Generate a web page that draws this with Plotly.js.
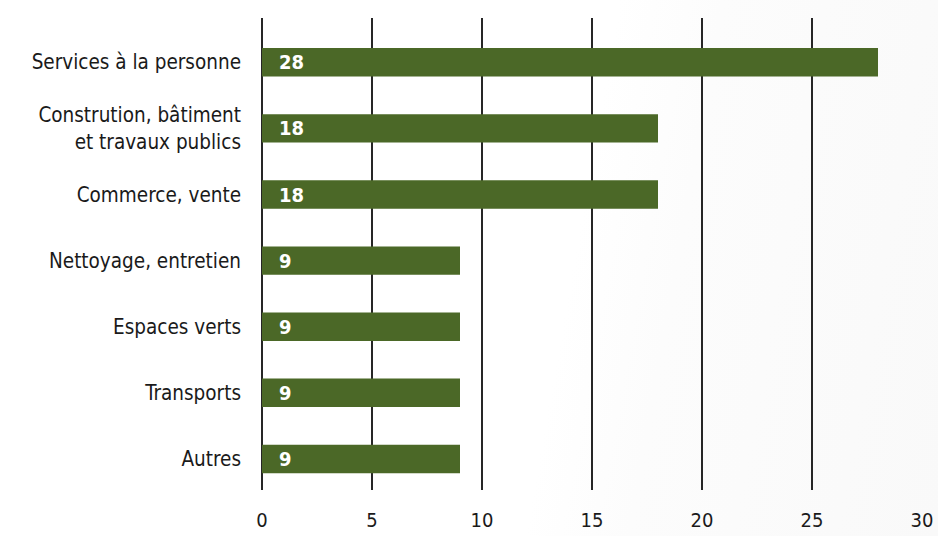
<!DOCTYPE html>
<html>
<head>
<meta charset="utf-8">
<script src="https://cdn.plot.ly/plotly-3.0.1.min.js"></script>
<style>
html,body{margin:0;padding:0;}
body{width:938px;height:536px;background:linear-gradient(100deg,#ffffff 0%,#ffffff 60%,#fcfcfc 70%,#f9f9f9 100%);}
#chart{width:938px;height:536px;}
</style>
</head>
<body>
<div id="chart"></div>
<script>
// Categories listed from bottom to top
const categories = ["Autres","Transports","Espaces verts","Nettoyage, entretien","Commerce, vente","Constrution, bâtiment<br>et travaux publics","Services à la personne"];
const values = [9, 9, 9, 9, 18, 18, 28];
const xTicks = [0, 5, 10, 15, 20, 25, 30];

const fontFam = "'DejaVu Sans Condensed', 'DejaVu Sans', sans-serif";

const trace = {
  type: 'bar',
  orientation: 'h',
  x: values,
  y: categories,
  marker: {color: '#4b6827'},
  width: 0.43,
  hoverinfo: 'none'
};

const annotations = values.map((v, i) => ({
  x: 0, y: categories[i], xref: 'x', yref: 'y',
  text: '<b>' + v + '</b>', showarrow: false,
  xanchor: 'left', xshift: 15,
  font: {family: fontFam, size: 20, color: '#ffffff'}
}));

const layout = {
  width: 938, height: 536,
  margin: {l: 262, r: 16, t: 18, b: 46},
  paper_bgcolor: 'rgba(0,0,0,0)',
  plot_bgcolor: 'rgba(0,0,0,0)',
  showlegend: false,
  xaxis: {
    range: [0, 30], autorange: false,
    tickvals: xTicks, ticktext: xTicks.map(String),
    showgrid: true, gridcolor: '#262626', gridwidth: 1.5,
    zeroline: true, zerolinecolor: '#262626', zerolinewidth: 1.5,
    showline: false, ticks: '',
    ticklabelstandoff: 16,
    tickfont: {family: fontFam, size: 20, color: '#1a1a1a'},
    fixedrange: true
  },
  yaxis: {
    type: 'category',
    range: [-0.47, 6.67], autorange: false,
    showgrid: false, zeroline: false, showline: false, ticks: '',
    ticklabelstandoff: 20,
    tickfont: {family: fontFam, size: 20.5, color: '#1a1a1a'},
    fixedrange: true
  },
  annotations: annotations
};

Plotly.newPlot('chart', [trace], layout, {displayModeBar: false, staticPlot: true});
</script>
</body>
</html>
